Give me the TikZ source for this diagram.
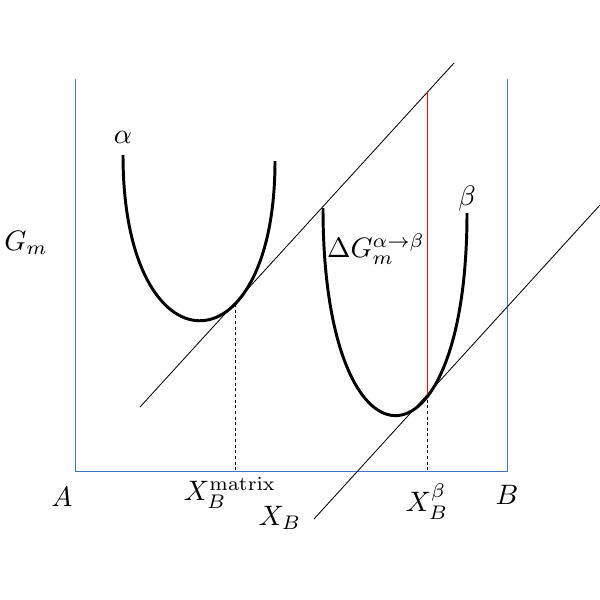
\documentclass[tikz,border=0pt]{standalone}
\begin{document}
\begin{tikzpicture}[x=0.0125cm,y=-0.0125cm,
  boxline/.style={draw={rgb,255:red,68;green,114;blue,196},line width=0.35pt},
  thin line/.style={draw=black,line width=0.3pt},
  curve/.style={draw=black,line width=1.05pt},
  guide/.style={draw=black,dash pattern=on 1.1pt off 0.9pt,line width=0.35pt},
  lbl/.style={inner sep=0pt}]
\useasboundingbox (0,0) rectangle (600,600);
% box
\coordinate (TL) at (75,79);
\coordinate (BL) at (75,471);
\coordinate (BR) at (507,471);
\coordinate (TR) at (507,79);
\draw[boxline] (TL) -- (BL) -- (BR) -- (TR);
% tangent lines
\coordinate (u1) at (140,407);
\coordinate (u2) at (454,63);
\coordinate (l1) at (314,519);
\coordinate (l2) at (600,205);
\draw[thin line] (u1) -- (u2);
\draw[thin line] (l1) -- (l2);
% alpha curve
\coordinate (a0) at (123,155);
\coordinate (a3) at (275,161);
\draw[curve] (a0) .. controls (123,375) and (275,375) .. (a3);
% beta curve
\coordinate (b0) at (323,208);
\coordinate (b3) at (467,213);
\draw[curve] (b0) .. controls (323,484) and (467,484) .. (b3);
% guides
\coordinate (ta) at (235,304);
\coordinate (ta0) at (235,471);
\coordinate (tb) at (427,394);
\coordinate (tb0) at (427,471);
\coordinate (tbu) at (427,92);
\draw[guide] (ta) -- (ta0);
\draw[guide] (tb) -- (tb0);
\draw[red,line width=0.35pt] (tbu) -- (tb);
% labels
\node[lbl] (alpha) at (123,137) {$\alpha$};
\node[lbl] (beta) at (467,198) {$\beta$};
\node[lbl] (Gm) at (26,243) {$G_m$};
\node[lbl] (dG) at (376,249) {$\Delta G_m^{\alpha\to\beta}$};
\node[lbl] (A) at (62,497) {$A$};
\node[lbl] (Xm) at (230,493) {$X_B^{\mathrm{matrix}}$};
\node[lbl] (Xb) at (427,502) {$X_B^{\beta}$};
\node[lbl] (B) at (507,495) {$B$};
\node[lbl] (XB) at (280,518) {$X_B$};
\end{tikzpicture}
\end{document}
